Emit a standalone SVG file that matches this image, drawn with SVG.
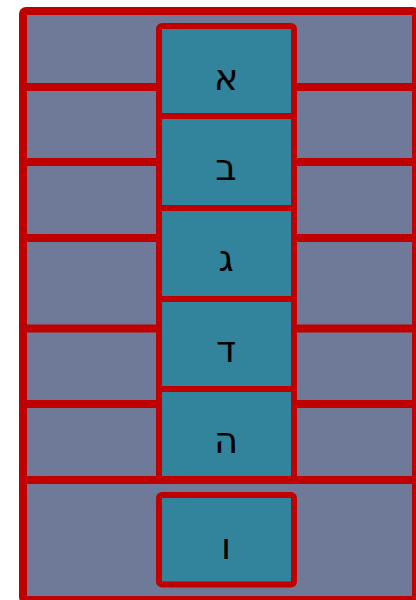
<svg xmlns="http://www.w3.org/2000/svg" width="416" height="600" viewBox="0 0 416 600">
<style>
.frame{fill:#6E7A98;stroke:#C00000;stroke-width:8}
.div{stroke:#C00000;stroke-width:8;fill:none}
.box{fill:#32849C;stroke:#C00000;stroke-width:6}
.lbl{font-family:"DejaVu Sans","Liberation Sans",sans-serif;font-size:37px;fill:#000;text-anchor:middle}
</style>
<rect width="416" height="600" fill="#ffffff"/>
<g id="frame">
<rect class="frame" x="23" y="11" width="393" height="589" rx="3"/>
</g>
<g id="connectors">
<line class="div" x1="23" y1="87" x2="416" y2="87"/>
<line class="div" x1="23" y1="162" x2="416" y2="162"/>
<line class="div" x1="23" y1="238" x2="416" y2="238"/>
<line class="div" x1="23" y1="328.5" x2="416" y2="328.5"/>
<line class="div" x1="23" y1="404" x2="416" y2="404"/>
</g>
<g id="node-alef"><rect class="box" x="159" y="26" width="135" height="90" rx="3"/><text class="lbl" x="226" y="90">א</text></g>
<g id="node-bet"><rect class="box" x="159" y="116" width="135" height="92"/><text class="lbl" x="226" y="180">ב</text></g>
<g id="node-gimel"><rect class="box" x="159" y="208" width="135" height="91"/><text class="lbl" x="226" y="271">ג</text></g>
<g id="node-dalet"><rect class="box" x="159" y="299" width="135" height="90"/><text class="lbl" x="226" y="362">ד</text></g>
<g id="node-he"><rect class="box" x="159" y="389" width="135" height="91"/><text class="lbl" x="226" y="453">ה</text></g>
<line class="div" x1="23" y1="480" x2="416" y2="480"/>
<g id="node-vav"><rect class="box" x="159" y="495" width="135" height="89.5" rx="3"/><text class="lbl" x="226" y="559">ו</text></g>
</svg>
